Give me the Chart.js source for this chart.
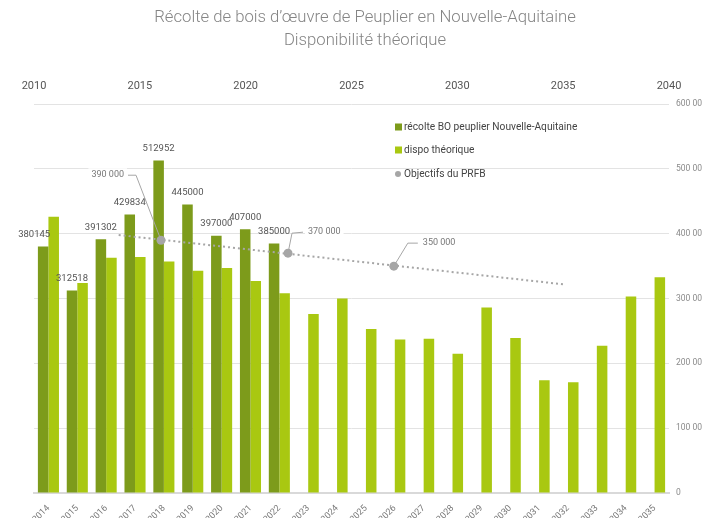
<!DOCTYPE html>
<html><head><meta charset="utf-8">
<script src="https://cdn.jsdelivr.net/npm/chart.js@4/dist/chart.umd.min.js"></script>
<style>
html,body{margin:0;padding:0;background:#fff;overflow:hidden;}
#wrap{position:relative;width:730px;height:518px;}
</style></head><body>
<div id="wrap"><canvas id="c" width="730" height="518" style="width:730px;height:518px"></canvas></div>
<script>
const categories = ['2014','2015','2016','2017','2018','2019','2020','2021','2022','2023','2024','2025','2026','2027','2028','2029','2030','2031','2032','2033','2034','2035'];
const recolte = [380145,312518,391302,429834,512952,445000,397000,407000,385000,null,null,null,null,null,null,null,null,null,null,null,null,null];
const dispo = [426000,324000,363000,364000,357000,343000,347000,327000,308000,276000,300000,253000,237000,238000,215000,286000,239000,174000,171000,227000,303000,333000];
const prfbYears = [2016,2022,2027];
const prfbValues = [390000,370000,350000];
const trendYears = [2014,2035];
const trendValues = [398000,322000];
const topTicks = [2010,2015,2020,2025,2030,2035,2040];
const yTicks = [0,100000,200000,300000,400000,500000,600000];

const DARK = '#7D9B1B';
const LIGHT = '#A9C811';
const GREY = '#A6A6A6';

Chart.defaults.font.family = 'Roboto';

// The bars are grouped on the bottom category axis only; the top year axis
// (used by the PRFB objectives) must not split the bar slots.
if (Chart.BarController && Chart.BarController.prototype._getAxisCount) {
  Chart.BarController.prototype._getAxisCount = function(){ return 1; };
}

function fmtSpace(v){ return v === 0 ? '0' : String(v).replace(/\B(?=(\d{3})+(?!\d))/g, ' '); }

const barLabels = {
  id:'barLabels',
  afterDatasetsDraw(chart){
    const ctx = chart.ctx;
    const meta = chart.getDatasetMeta(0);
    ctx.save();
    ctx.font = '9.5px Roboto';
    ctx.fillStyle = '#555555';
    ctx.textAlign = 'center';
    ctx.textBaseline = 'middle';
    meta.data.forEach((el, i) => {
      const v = recolte[i];
      if (v == null) return;
      const dx = i === 0 ? -9 : 0;
      ctx.fillText(String(v), el.x + dx, el.y - 12);
    });
    ctx.restore();
  }
};

const calloutCfg = [
  {elbow:[-25,-65], end:[-33,-65], side:'left'},
  {elbow:[4,-20], end:[15,-21], side:'right'},
  {elbow:[14,-23], end:[24,-23], side:'right'}
];
const callouts = {
  id:'callouts',
  afterDatasetsDraw(chart){
    const ctx = chart.ctx;
    const meta = chart.getDatasetMeta(2);
    ctx.save();
    ctx.font = '9px Roboto';
    meta.data.forEach((el, i) => {
      const c = calloutCfg[i];
      const txt = fmtSpace(prfbValues[i]);
      const w = ctx.measureText(txt).width;
      const ex = el.x + c.end[0], ey = el.y + c.end[1];
      const tx = c.side === 'left' ? ex - 4 - w : ex + 5;
      ctx.fillStyle = '#fff';
      ctx.fillRect(tx - 3, ey - 7, w + 6, 14);
      ctx.strokeStyle = GREY;
      ctx.lineWidth = 1;
      ctx.beginPath();
      ctx.moveTo(el.x, el.y);
      ctx.lineTo(el.x + c.elbow[0], el.y + c.elbow[1]);
      ctx.lineTo(ex, ey);
      ctx.stroke();
      ctx.fillStyle = '#777';
      ctx.textAlign = 'left';
      ctx.textBaseline = 'middle';
      ctx.fillText(txt, tx, ey);
    });
    ctx.restore();
  }
};

const customLegend = {
  id:'customLegend',
  afterDraw(chart){
    const ctx = chart.ctx;
    const x0 = 395;
    const ys = [127,150,174];
    ctx.save();
    ctx.font = '10.2px Roboto';
    ctx.textAlign = 'left';
    ctx.textBaseline = 'middle';
    [0,1,2].forEach((di, k) => {
      const ds = chart.data.datasets[di];
      const y = ys[k];
      ctx.fillStyle = ds.backgroundColor;
      if (di === 2) {
        ctx.beginPath(); ctx.arc(x0 + 3, y, 3, 0, Math.PI*2); ctx.fill();
      } else {
        ctx.fillRect(x0, y - 3.5, 7, 7);
      }
      ctx.fillStyle = '#444';
      ctx.fillText(ds.label, x0 + 9, y);
    });
    ctx.restore();
  }
};

const chart = new Chart(document.getElementById('c'), {
  type:'bar',
  data:{
    labels: categories,
    datasets:[
      {label:'récolte BO peuplier Nouvelle-Aquitaine', data: recolte, backgroundColor: DARK, xAxisID:'x', yAxisID:'y', order:2, categoryPercentage:0.73, barPercentage:1},
      {label:'dispo théorique', data: dispo, backgroundColor: LIGHT, xAxisID:'x', yAxisID:'y', order:2, categoryPercentage:0.73, barPercentage:1},
      {type:'scatter', label:'Objectifs du PRFB', data: prfbYears.map((x,i)=>({x:x, y:prfbValues[i]})), xAxisID:'x2', yAxisID:'y', backgroundColor: GREY, pointRadius:4.5, borderWidth:0, order:0},
      {type:'line', label:'Tendance', data: trendYears.map((x,i)=>({x:x, y:trendValues[i]})), xAxisID:'x2', yAxisID:'y', borderColor: GREY, borderWidth:2, borderDash:[2,3], pointRadius:0, fill:false, order:1}
    ]
  },
  options:{
    responsive:false,
    animation:false,
    devicePixelRatio:1,
    layout:{padding:0},
    plugins:{
      legend:{display:false},
      tooltip:{enabled:false},
      title:{display:true, text:['Récolte de bois d\u2019œuvre de Peuplier en Nouvelle-Aquitaine','Disponibilité théorique'], color:'#858585', font:{size:16.7, weight:'300', lineHeight:1.35}, padding:{top:7, bottom:0}}
    },
    scales:{
      x:{type:'category', position:'bottom', offset:true,
         grid:{display:false, drawTicks:false},
         border:{display:true, color:'#D9D9D9', width:2},
         ticks:{minRotation:45, maxRotation:45, autoSkip:false, font:{size:9}, color:'#777', padding:10},
         afterFit(s){ s.height = 25; }},
      x2:{type:'linear', position:'top', min:2010, max:2040, offset:false,
         grid:{display:false, drawTicks:false}, border:{display:false},
         afterBuildTicks(s){ s.ticks = topTicks.map(v=>({value:v})); },
         ticks:{callback:v=>String(v), font:{size:11}, color:'#555', padding:11, maxRotation:0, minRotation:0, autoSkip:false},
         afterFit(s){ s.height = 52; }},
      y:{type:'linear', position:'right', min:0, max:600000,
         afterBuildTicks(s){ s.ticks = yTicks.map(v=>({value:v})); },
         ticks:{callback:v=>fmtSpace(v), font:{size:8.5}, color:'#8a8a8a', padding:7},
         grid:{color:'#E3E3E3', drawTicks:false}, border:{display:false},
         afterFit(s){ s.width = 61; }},
      spacer:{type:'linear', position:'left', display:true,
         grid:{display:false, drawTicks:false}, border:{display:false}, ticks:{display:false},
         afterFit(s){ s.width = 34; }}
    }
  },
  plugins:[barLabels, callouts, customLegend]
});
</script>
</body></html>
